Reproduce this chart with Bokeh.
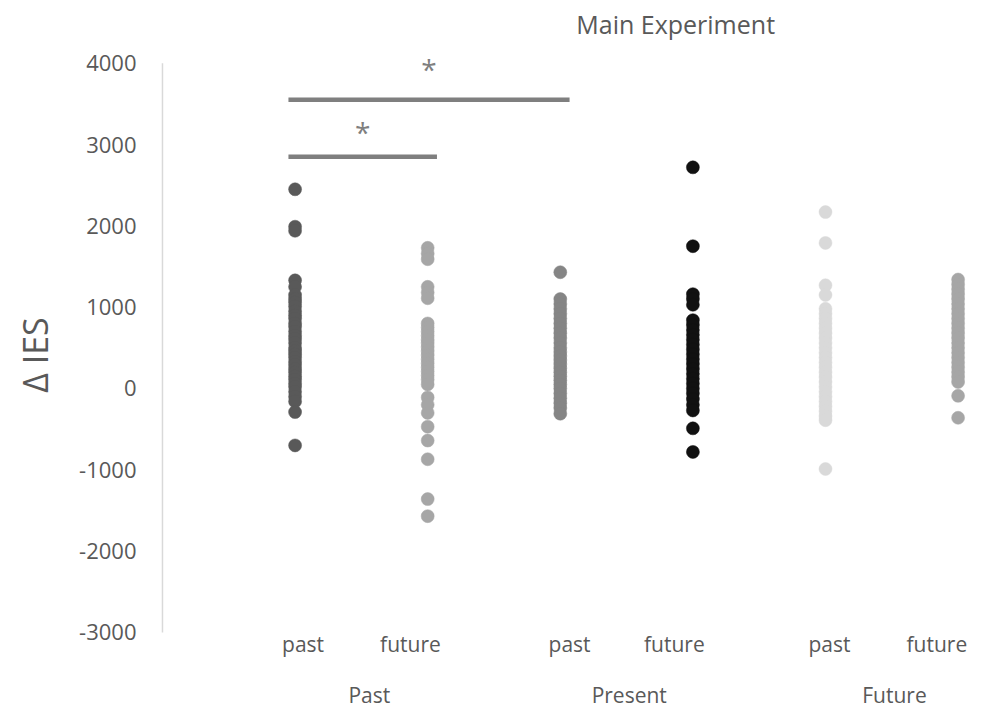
from bokeh.plotting import figure
from bokeh.models import Range1d, FixedTicker
from bokeh.embed import file_html
from bokeh.resources import INLINE
from bokeh.core.properties import value

# ---- data ----
title_text = "Main Experiment"
group_labels = ["Past", "Present", "Future"]
sub_labels = ["past", "future", "past", "future", "past", "future"]
y_ticks = [-3000, -2000, -1000, 0, 1000, 2000, 3000, 4000]

past_past = [2450, 1990, 1940, 1330, 1250, 1150, 1100, 1060, 1010, 950, 900, 860, 800, 760,
             700, 650, 610, 560, 500, 460, 420, 380, 330, 290, 240, 200, 150, 110, 60, 20,
             -40, -100, -160, -290, -700]
past_future = [1730, 1660, 1590, 1250, 1180, 1110, 800, 750, 700, 650, 600, 560, 510, 460,
               410, 360, 310, 260, 210, 160, 110, 50, -110, -200, -300, -470, -640, -870,
               -1360, -1570]
present_past = [1430, 1100, 1040, 980, 920, 860, 800, 740, 680, 620, 560, 500, 450, 400,
                350, 300, 250, 200, 150, 100, 50, 0, -60, -120, -180, -240, -310]
present_future = [2720, 1750, 1160, 1100, 1030, 840, 780, 720, 660, 600, 540, 480, 420,
                  360, 300, 240, 180, 120, 60, 0, -60, -130, -200, -270, -490, -780]
future_past = [2170, 1790, 1270, 1150, 980, 920, 860, 800, 740, 680, 620, 560, 500, 440,
               380, 320, 260, 200, 140, 80, 20, -40, -100, -160, -220, -280, -340, -390, -990]
future_future = [1340, 1280, 1220, 1160, 1100, 1040, 980, 920, 860, 800, 740, 680, 620,
                 560, 500, 440, 380, 320, 260, 200, 140, 80, -90, -360]

series = [past_past, past_future, present_past, present_future, future_past, future_future]
colors = ["#595959", "#a6a6a6", "#858585", "#111111", "#d9d9d9", "#a6a6a6"]

# significance brackets: (from category, to category, level, star level)
bracket_from = [1, 1]
bracket_to = [3, 2]
bracket_level = [3550, 2850]
star_level = [3930, 3160]
bracket_text = ["*", "*"]

# ---- layout constants ----
W, H = 982, 709
FONT = "Open Sans"
TXT = "#595959"
Y_MIN, Y_MAX = -3000, 4000
cat_x = [1, 2, 3, 4, 5, 6]
sub_offsets = [0.06, -0.13, 0.07, -0.14, 0.03, -0.16]
group_offsets = [0.06, 0.02, 0.02]
sub_label_y = -3137
group_label_y = -3764
title_pos = (3.87, 4480)

p = figure(width=W, height=H, output_backend="svg", toolbar_location=None,
           x_range=Range1d(-0.03, 6.184), y_range=Range1d(-3948, 4772),
           min_border_left=158, min_border_right=0, min_border_top=0,
           min_border_bottom=0, x_axis_type=None)
p.outline_line_color = None
p.xgrid.grid_line_color = None
p.ygrid.grid_line_color = None
p.background_fill_color = "white"
p.border_fill_color = "white"

# y axis (labels only; its line is drawn over the value span below)
ya = p.yaxis[0]
ya.ticker = FixedTicker(ticks=y_ticks)
ya.major_label_overrides = {t: str(t) for t in y_ticks}
ya.axis_line_color = None
ya.major_tick_line_color = None
ya.minor_tick_line_color = None
ya.major_tick_out = 0
ya.major_tick_in = 0
ya.minor_tick_out = 0
ya.major_label_text_font = FONT
ya.major_label_text_font_size = "22px"
ya.major_label_text_color = TXT
ya.major_label_standoff = 22
ya.axis_label = "\u0394 IES"
ya.axis_label_text_font = FONT
ya.axis_label_text_font_size = "34px"
ya.axis_label_text_font_style = "normal"
ya.axis_label_text_color = TXT
ya.axis_label_standoff = 18

p.segment(x0=[0], y0=[Y_MIN], x1=[0], y1=[Y_MAX], line_color="#d9d9d9", line_width=1.5)

# category labels
sub_pos = [c + o for c, o in zip(cat_x, sub_offsets)]
group_pos = [(cat_x[2 * i] + cat_x[2 * i + 1]) / 2 + group_offsets[i] for i in range(3)]
p.text(x=sub_pos, y=[sub_label_y] * len(sub_pos), text=sub_labels, text_font=value(FONT),
       text_font_size="21px", text_color=TXT, text_align="center", text_baseline="middle")
p.text(x=group_pos, y=[group_label_y] * len(group_pos), text=group_labels,
       text_font=value(FONT), text_font_size="21px", text_color=TXT, text_align="center",
       text_baseline="middle")

# title
p.text(x=[title_pos[0]], y=[title_pos[1]], text=[title_text], text_font=value(FONT),
       text_font_size="25px", text_color=TXT, text_align="center", text_baseline="middle")

# dots
for cx, vals, col in zip(cat_x, series, colors):
    p.scatter(x=[cx] * len(vals), y=vals, size=13, fill_color=col, line_color=col,
              line_width=0.5)

# brackets
x0 = [cat_x[a - 1] - 0.05 for a in bracket_from]
x1 = [cat_x[b - 1] + 0.07 for b in bracket_to]
p.segment(x0=x0, y0=bracket_level, x1=x1, y1=bracket_level, line_color="#7f7f7f",
          line_width=4.5, line_cap="butt")
star_x = [(a + b) / 2 for a, b in zip(x0, x1)]
p.text(x=star_x, y=star_level, text=bracket_text, text_font=value(FONT),
       text_font_size="28px", text_color="#7f7f7f", text_align="center",
       text_baseline="alphabetic")

open("out.html", "w").write(file_html(p, INLINE))
